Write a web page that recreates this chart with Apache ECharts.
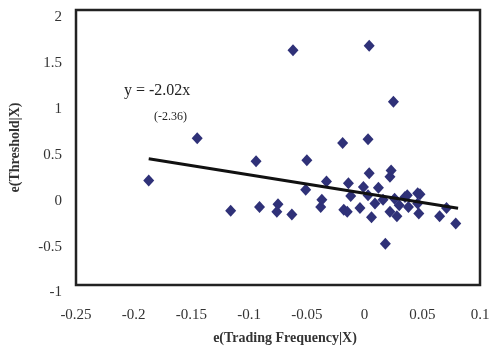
<!DOCTYPE html>
<html>
<head>
<meta charset="utf-8">
<script src="https://cdn.jsdelivr.net/npm/echarts@6/dist/echarts.min.js"></script>
<style>
  html, body { margin: 0; padding: 0; background: #fff; }
  #chart { width: 490px; height: 346px; }
</style>
</head>
<body>
<div id="chart"></div>
<script>
// residual scatter: e(Trading Frequency|X) vs e(Threshold|X)
const tradingResid = [
  -0.187, -0.145, -0.116, -0.094, -0.091, -0.075, -0.076, -0.063, -0.062, -0.050,
  -0.051, -0.038, -0.037, -0.033, -0.019, -0.018, -0.015, -0.014, -0.012, -0.004,
  -0.001, 0.003, 0.003, 0.004, 0.004, 0.006, 0.009, 0.012, 0.016, 0.018,
  0.022, 0.022, 0.023, 0.025, 0.026, 0.028, 0.030, 0.035, 0.037, 0.038,
  0.046, 0.046, 0.047, 0.048, 0.065, 0.071, 0.079,
];
const thresholdResid = [
  0.14, 0.60, -0.19, 0.35, -0.15, -0.12, -0.20, -0.23, 1.56, 0.36,
  0.04, -0.15, -0.07, 0.13, 0.55, -0.18, -0.20, 0.11, -0.03, -0.16,
  0.07, -0.02, 0.59, 1.61, 0.22, -0.26, -0.11, 0.06, -0.07, -0.55,
  -0.20, 0.18, 0.25, 1.00, -0.06, -0.25, -0.13, -0.04, -0.02, -0.15,
  0.00, -0.11, -0.22, -0.01, -0.25, -0.16, -0.33,
];

// fitted line y = -2.02x, drawn over the range of the data
const slope = -2.02;
const fitRange = [-0.187, 0.081];

const xTicks = [-0.25, -0.2, -0.15, -0.1, -0.05, 0, 0.05, 0.1];
const yTicks = [-1, -0.5, 0, 0.5, 1, 1.5, 2];

const serif = "Liberation Serif";

var myChart = echarts.init(document.getElementById("chart"));
myChart.setOption({
  backgroundColor: "#fff",
  animation: false,
  grid: {
    left: 76,
    right: 10,
    top: 10,
    bottom: 61,
    containLabel: false,
    outerBoundsMode: "none",
    show: true,
    borderColor: "#222",
    borderWidth: 2.5,
    backgroundColor: "#fff",
  },
  xAxis: {
    type: "value",
    min: xTicks[0],
    max: xTicks[xTicks.length - 1],
    interval: 0.05,
    name: "e(Trading Frequency|X)",
    nameLocation: "middle",
    nameGap: 46,
    nameTextStyle: { fontFamily: serif, fontSize: 14, fontWeight: "bold", color: "#333", padding: [0, 0, 0, 14] },
    axisLine: { show: false },
    axisTick: { show: false },
    splitLine: { show: false },
    axisLabel: {
      margin: 23,
      fontFamily: serif,
      fontSize: 15,
      color: "#333",
      formatter: (v) => String(+v.toFixed(2)),
    },
  },
  yAxis: {
    type: "value",
    min: yTicks[0],
    max: yTicks[yTicks.length - 1],
    interval: 0.5,
    name: "e(Threshold|X)",
    nameLocation: "middle",
    nameGap: 54,
    nameTextStyle: { fontFamily: serif, fontSize: 14, fontWeight: "bold", color: "#333" },
    axisLine: { show: false },
    axisTick: { show: false },
    splitLine: { show: false },
    axisLabel: {
      margin: 14,
      fontFamily: serif,
      fontSize: 15,
      color: "#333",
      verticalAlign: "top",
      formatter: (v) => String(+v.toFixed(2)),
    },
  },
  graphic: [
    {
      type: "text",
      left: 124,
      top: 83,
      style: { text: "y = -2.02x", font: "16px 'Liberation Serif'", fill: "#222" },
    },
    {
      type: "text",
      left: 154,
      top: 111,
      style: { text: "(-2.36)", font: "12px 'Liberation Serif'", fill: "#222" },
    },
  ],
  series: [
    {
      type: "scatter",
      symbol: "diamond",
      symbolSize: [11, 12],
      itemStyle: { color: "#2f3178", opacity: 1 },
      data: tradingResid.map((x, i) => [x, thresholdResid[i]]),
      z: 2,
    },
    {
      type: "line",
      symbol: "none",
      lineStyle: { color: "#111", width: 3 },
      data: fitRange.map((x) => [x, slope * x]),
      z: 3,
    },
  ],
});
</script>
</body>
</html>
